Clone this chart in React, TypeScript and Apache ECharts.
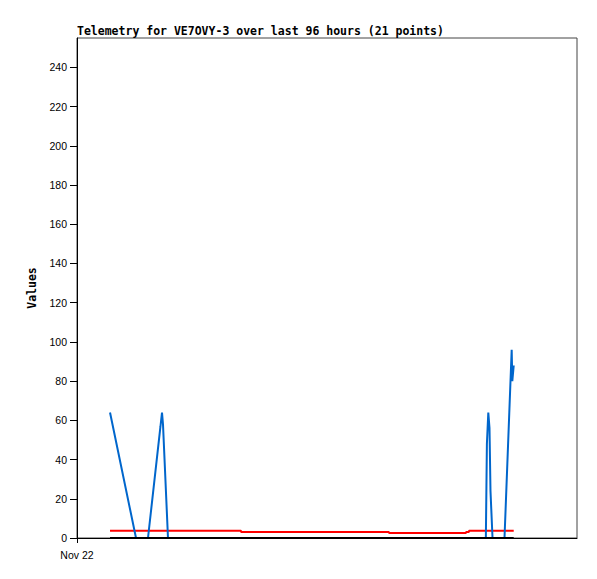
import React, { useEffect, useRef } from "react";
import * as echarts from "echarts";

const titleText = "Telemetry for VE7OVY-3 over last 96 hours (21 points)";
const yAxisName = "Values";
const xLabel = "Nov 22";

// hours since Nov 22 00:00
const hours = [6.34, 11.33, 13.63, 16.03, 16.32, 16.51, 17.47, 31.49, 59.9, 74.69, 75.26, 78.5, 78.7, 78.97, 79.2, 79.39, 79.78, 82.08, 83.46, 83.58, 83.85];
const blueValues = [64, 0, 0, 57, 64, 58, 0, 0, 0, 0, 0, 0, 48, 64, 56, 24, 0, 0, 96, 80, 88];
const redValues = [3.7, 3.7, 3.7, 3.7, 3.7, 3.7, 3.7, 3.1, 2.6, 3.1, 3.7, 3.7, 3.7, 3.7, 3.7, 3.7, 3.7, 3.7, 3.7, 3.7, 3.7];
const blackValues = [0, 0, 0, 0, 0, 0, 0, 0, 0, 0, 0, 0, 0, 0, 0, 0, 0, 0, 0, 0, 0];

const pairs = (vals: number[]) => hours.map((h, i) => [h, vals[i]]);

export default function App() {
  const ref = useRef<HTMLDivElement>(null);
  useEffect(() => {
    if (!ref.current) return;
    const chart = echarts.init(ref.current, null, { renderer: "svg" });
    const labelFont = { fontFamily: "Liberation Sans", fontSize: 10.5, color: "#000" };
    chart.setOption({
      animation: false,
      backgroundColor: "#fff",
      title: {
        text: titleText,
        left: 72,
        top: 20,
        textStyle: { fontFamily: "DejaVu Sans Mono", fontWeight: "bold", fontSize: 11.5, color: "#000" },
      },
      grid: { left: 77, top: 38, right: 20, bottom: 41, show: true, borderColor: "#444", borderWidth: 1 },
      xAxis: {
        type: "value",
        min: 0,
        max: 96,
        interval: 96,
        axisLine: { show: true, onZero: false, lineStyle: { color: "#000", width: 1 } },
        axisTick: { show: true, length: 5, customValues: [0], lineStyle: { color: "#000" } },
        axisLabel: { ...labelFont, margin: 11, customValues: [0], formatter: () => xLabel },
        splitLine: { show: false },
      },
      yAxis: {
        type: "value",
        min: 0,
        max: 255,
        interval: 20,
        name: yAxisName,
        nameLocation: "middle",
        nameRotate: 90,
        nameGap: 39,
        nameTextStyle: { fontFamily: "DejaVu Sans Mono", fontWeight: "bold", fontSize: 11.5, color: "#000" },
        axisLine: { show: true, lineStyle: { color: "#000", width: 1 } },
        axisTick: { show: true, length: 7, lineStyle: { color: "#000" } },
        axisLabel: { ...labelFont, margin: 10, showMaxLabel: false },
        splitLine: { show: false },
      },
      series: [
        { type: "line", step: "end", data: pairs(redValues), showSymbol: false, lineStyle: { color: "#ff0000", width: 2 }, z: 2 },
        { type: "line", data: pairs(blueValues), showSymbol: false, lineStyle: { color: "#0066cc", width: 2 }, z: 3 },
        { type: "line", data: pairs(blackValues), showSymbol: false, lineStyle: { color: "#000", width: 2 }, z: 4 },
      ],
    });
    return () => chart.dispose();
  }, []);
  return <div ref={ref} style={{ width: 597, height: 579, position: "absolute", left: 0, top: 0 }} />;
}
